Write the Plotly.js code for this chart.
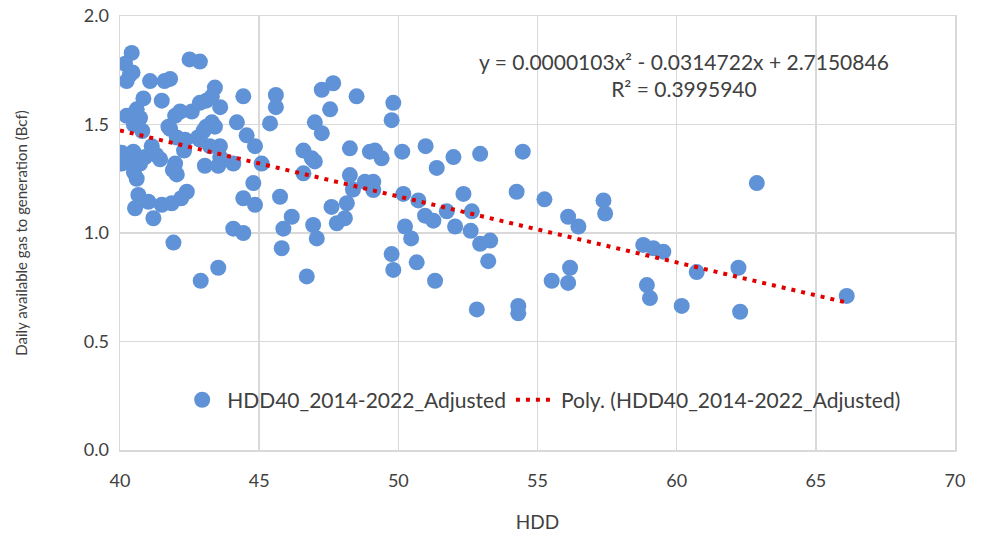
<!DOCTYPE html>
<html>
<head>
<meta charset="utf-8">
<script src="https://cdn.plot.ly/plotly-3.0.1.min.js"></script>
<style>html,body{margin:0;padding:0;background:#fff;}#chart{width:984px;height:536px;}</style>
</head>
<body>
<div id="chart"></div>
<script>
// HDD values (x) and daily available gas to generation in Bcf (y)
const hdd = [
  40.42,40.18,40.36,40.24,40.45,40.84,40.60,40.24,40.72,40.50,
  40.06,40.06,40.48,40.90,40.60,40.72,40.60,40.50,40.66,41.02,
  40.54,41.20,41.14,40.30,40.80,40.50,40.10,
  41.08,41.60,41.80,41.50,41.98,42.16,42.58,41.80,42.04,41.74,
  41.44,41.30,41.98,42.04,41.90,41.50,41.86,42.20,42.40,41.92,
  42.50,42.87,42.34,42.30,
  42.87,43.10,43.41,43.30,43.60,43.30,43.10,43.41,43.00,42.87,
  43.23,43.59,43.05,43.53,44.07,43.60,43.53,42.90,44.07,44.43,42.80,
  44.43,44.20,44.55,44.85,45.09,44.79,44.43,44.85,45.39,45.60,
  45.60,45.75,45.87,46.17,45.81,
  46.59,46.89,47.00,46.59,47.00,47.25,47.25,47.66,47.55,46.94,
  47.07,46.71,47.60,48.15,47.79,48.08,
  48.50,48.26,48.98,49.16,49.40,48.26,48.80,49.10,49.10,48.37,
  49.82,49.76,49.76,49.82,
  50.14,50.18,50.72,50.98,51.38,51.98,50.96,51.26,51.74,50.24,
  50.46,50.66,51.32,52.04,
  52.94,52.34,52.64,52.60,52.94,53.30,53.23,52.82,54.47,54.25,
  54.31,54.31,
  55.25,55.51,56.10,56.47,56.17,56.10,57.37,57.43,58.80,59.16,
  59.52,58.93,59.04,60.72,60.18,62.22,62.28,62.88,66.11
];
const gasBcf = [
  1.83,1.78,1.73,1.70,1.74,1.62,1.57,1.54,1.53,1.55,
  1.37,1.32,1.375,1.35,1.32,1.32,1.25,1.28,1.175,1.144,
  1.114,1.068,1.40,1.36,1.47,1.50,1.33,
  1.70,1.70,1.71,1.61,1.54,1.56,1.56,1.48,1.44,1.49,
  1.34,1.36,1.32,1.27,1.29,1.13,1.137,1.16,1.19,0.956,
  1.80,1.79,1.43,1.38,
  1.60,1.61,1.67,1.63,1.58,1.51,1.49,1.49,1.47,1.43,
  1.40,1.40,1.31,1.31,1.32,1.35,0.84,0.78,1.02,1.00,1.44,
  1.63,1.51,1.45,1.40,1.32,1.23,1.16,1.13,1.505,1.636,
  1.58,1.167,1.02,1.075,0.93,
  1.38,1.344,1.33,1.275,1.51,1.46,1.66,1.69,1.57,1.037,
  0.975,0.80,1.12,1.137,1.045,1.068,
  1.63,1.39,1.375,1.38,1.344,1.267,1.236,1.236,1.198,1.20,
  1.60,1.52,0.903,0.83,
  1.375,1.18,1.15,1.40,1.30,1.35,1.08,1.057,1.10,1.03,
  0.975,0.865,0.78,1.03,
  1.365,1.18,1.10,1.01,0.95,0.965,0.87,0.648,1.375,1.19,
  0.664,0.63,
  1.155,0.78,1.075,1.03,0.84,0.77,1.15,1.09,0.945,0.93,
  0.914,0.76,0.70,0.82,0.664,0.84,0.637,1.23,0.71
];
// Excel polynomial trendline coefficients as printed on the chart: a*x^2 + b*x + c
const polyCoef = [0.0000103, -0.0314722, 2.7150846];
const trendRange = [40, 66.11];
const seriesName = 'HDD40_2014-2022_Adjusted';
const trendName = 'Poly. (HDD40_2014-2022_Adjusted)';
const xTicks = [40, 45, 50, 55, 60, 65, 70];
const yTicks = [0.0, 0.5, 1.0, 1.5, 2.0];

const tx = [], ty = [];
for (let i = 0; i <= 60; i++) {
  const x = trendRange[0] + (trendRange[1] - trendRange[0]) * i / 60;
  tx.push(x);
  ty.push(polyCoef[0]*x*x + polyCoef[1]*x + polyCoef[2]);
}

const FONT = 'Lato, "Liberation Sans", sans-serif';
const grid = '#d9d9d9';
const txt = '#404040';

const traces = [
  {
    type: 'scatter', mode: 'markers', x: hdd, y: gasBcf, name: seriesName,
    marker: {size: 16, color: '#5f92d6'}
  },
  {
    type: 'scatter', mode: 'lines', x: tx, y: ty, name: trendName,
    line: {color: '#e00000', width: 4, dash: '4px,6px'}
  }
];

const layout = {
  width: 984, height: 536,
  margin: {l: 120, r: 29, t: 16, b: 86},
  paper_bgcolor: '#fff', plot_bgcolor: '#fff',
  font: {family: FONT, size: 17, color: txt},
  showlegend: true,
  legend: {
    orientation: 'h', x: 0.505, xanchor: 'center', y: 0.115, yanchor: 'middle',
    bgcolor: 'rgba(0,0,0,0)', font: {size: 21, color: txt},
    itemwidth: 40
  },
  xaxis: {
    range: [40, 70], tickvals: xTicks, ticktext: xTicks.map(String),
    showgrid: true, gridcolor: grid, gridwidth: 1.5, zeroline: false,
    showline: true, linecolor: grid, linewidth: 1.5, mirror: true,
    ticks: '', ticklabelstandoff: 14,
    tickfont: {size: 18, color: txt},
    title: {text: 'HDD', font: {size: 19, color: txt}, standoff: 25}
  },
  yaxis: {
    range: [0, 2], tickvals: yTicks, ticktext: yTicks.map(v => v.toFixed(1)),
    showgrid: true, gridcolor: grid, gridwidth: 1.5, zeroline: false,
    showline: true, linecolor: grid, linewidth: 1.5, mirror: true,
    ticks: '', ticklabelstandoff: 6,
    tickfont: {size: 18, color: txt},
    title: {text: 'Daily available gas to generation (Bcf)', font: {size: 15, color: txt}, standoff: 52}
  },
  annotations: [{
    xref: 'paper', yref: 'paper', x: 0.675, y: 0.865, xanchor: 'center', yanchor: 'middle',
    align: 'center', showarrow: false,
    text: 'y = 0.0000103x² - 0.0314722x + 2.7150846<br>R² = 0.3995940',
    font: {size: 21, color: txt}
  }]
};

Plotly.newPlot('chart', traces, layout, {displayModeBar: false, staticPlot: true});
</script>
</body>
</html>
